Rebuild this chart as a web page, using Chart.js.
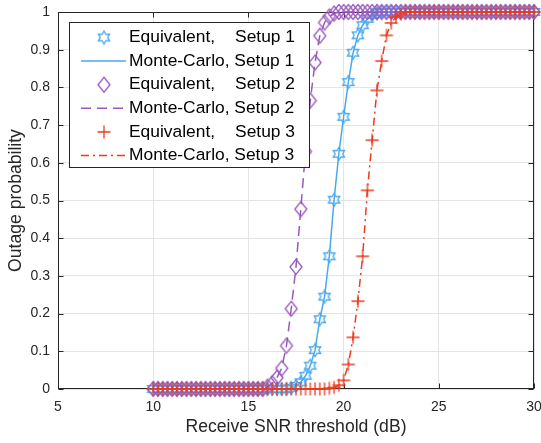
<!DOCTYPE html>
<html>
<head>
<meta charset="utf-8">
<script src="https://cdn.jsdelivr.net/npm/chart.js@4.4.1/dist/chart.umd.min.js"></script>
<style>
  html, body { margin: 0; padding: 0; background: #fff; }
  canvas { display: block; }
</style>
</head>
<body>
<canvas id="outageChart" width="541" height="443"></canvas>
<script>
// receive SNR threshold grid (dB)
const snrDb = [
  10, 10.25, 10.5, 10.75, 11, 11.25, 11.5, 11.75, 12, 12.25, 12.5, 12.75,
  13, 13.25, 13.5, 13.75, 14, 14.25, 14.5, 14.75, 15, 15.25, 15.5, 15.75,
  16, 16.25, 16.5, 16.75, 17, 17.25, 17.5, 17.75, 18, 18.25, 18.5, 18.75,
  19, 19.25, 19.5, 19.75, 20, 20.25, 20.5, 20.75, 21, 21.25, 21.5, 21.75,
  22, 22.25, 22.5, 22.75, 23, 23.25, 23.5, 23.75, 24, 24.25, 24.5, 24.75,
  25, 25.25, 25.5, 25.75, 26, 26.25, 26.5, 26.75, 27, 27.25, 27.5, 27.75,
  28, 28.25, 28.5, 28.75, 29, 29.25, 29.5, 29.75, 30
];

// outage probability, setup 1
const setup1 = [
  0, 0, 0, 0, 0, 0, 0, 0, 0, 0, 0, 0,
  0, 0, 0, 0, 0, 0, 0, 0, 0, 0, 0, 0,
  0, 0, 0, 0, 0, 0.003, 0.008, 0.018, 0.035, 0.062, 0.103, 0.185,
  0.245, 0.352, 0.502, 0.624, 0.722, 0.814, 0.892, 0.938, 0.965, 0.982, 0.992, 0.997,
  1, 1, 1, 1, 1, 1, 1, 1, 1, 1, 1, 1,
  1, 1, 1, 1, 1, 1, 1, 1, 1, 1, 1, 1,
  1, 1, 1, 1, 1, 1, 1, 1, 1
];

// outage probability, setup 2
const setup2 = [
  0, 0, 0, 0, 0, 0, 0, 0, 0, 0, 0, 0,
  0, 0, 0, 0, 0, 0, 0, 0, 0, 0, 0, 0,
  0.006, 0.015, 0.03, 0.055, 0.115, 0.213, 0.324, 0.477, 0.63, 0.765, 0.866, 0.937,
  0.972, 0.988, 0.996, 1, 1, 1, 1, 1, 1, 1, 1, 1,
  1, 1, 1, 1, 1, 1, 1, 1, 1, 1, 1, 1,
  1, 1, 1, 1, 1, 1, 1, 1, 1, 1, 1, 1,
  1, 1, 1, 1, 1, 1, 1, 1, 1
];

// outage probability, setup 3
const setup3 = [
  0, 0, 0, 0, 0, 0, 0, 0, 0, 0, 0, 0,
  0, 0, 0, 0, 0, 0, 0, 0, 0, 0, 0, 0,
  0, 0, 0, 0, 0, 0, 0, 0, 0, 0, 0, 0,
  0, 0.002, 0.004, 0.01, 0.023, 0.065, 0.137, 0.233, 0.352, 0.527, 0.66, 0.792,
  0.87, 0.938, 0.971, 0.987, 0.995, 1, 1, 1, 1, 1, 1, 1,
  1, 1, 1, 1, 1, 1, 1, 1, 1, 1, 1, 1,
  1, 1, 1, 1, 1, 1, 1, 1, 1
];

const xTicks = [5, 10, 15, 20, 25, 30];
const yTicks = [0, 0.1, 0.2, 0.3, 0.4, 0.5, 0.6, 0.7, 0.8, 0.9, 1];
const yTickLabels = ['0', '0.1', '0.2', '0.3', '0.4', '0.5', '0.6', '0.7', '0.8', '0.9', '1'];

const BLUE = '#4aa8ee';
const PURPLE = '#9a58bd';
const RED = '#ec3b1f';
const FONT = '"Liberation Sans", Arial, Helvetica, sans-serif';
const AXIS = '#262626';

function makeMarker(kind, color) {
    const c = document.createElement('canvas');
    c.width = 18;
    c.height = 18;
    const g = c.getContext('2d');
    g.strokeStyle = color;
    g.lineWidth = 1.3;
    g.beginPath();
    if (kind === 'hexagram') {
        const R = 6.5, r = R / Math.sqrt(3);
        for (let k = 0; k < 12; k++) {
            const a = -Math.PI / 2 + k * Math.PI / 6;
            const rad = k % 2 === 0 ? R : r;
            const px = 9 + rad * Math.cos(a), py = 9 + rad * Math.sin(a);
            if (k === 0) g.moveTo(px, py); else g.lineTo(px, py);
        }
        g.closePath();
    } else if (kind === 'diamond') {
        g.moveTo(9, 1.5);
        g.lineTo(15, 9);
        g.lineTo(9, 16.5);
        g.lineTo(3, 9);
        g.closePath();
    } else {
        g.moveTo(9, 2.5); g.lineTo(9, 15.5);
        g.moveTo(2.5, 9); g.lineTo(15.5, 9);
    }
    g.stroke();
    return c;
}

const starImg = makeMarker('hexagram', BLUE);
const diamondImg = makeMarker('diamond', PURPLE);
const plusImg = makeMarker('plus', RED);

function toPoints(values) {
    return snrDb.map((x, i) => ({ x: x, y: values[i] }));
}

function markerSet(label, values, img, order) {
    return {
        label: label, data: toPoints(values), showLine: false,
        pointStyle: img, pointRadius: 6, pointHoverRadius: 6,
        borderColor: 'transparent', backgroundColor: 'transparent',
        clip: false, order: order
    };
}

function lineSet(label, values, color, dash, order) {
    return {
        label: label, data: toPoints(values), borderColor: color,
        borderWidth: 1.5, borderDash: dash, pointRadius: 0, fill: false,
        tension: 0, clip: false, order: order
    };
}

const legendItems = [
    { a: 'Equivalent,', b: 'Setup 1', img: starImg },
    { a: 'Monte-Carlo, Setup 1', color: BLUE, dash: [] },
    { a: 'Equivalent,', b: 'Setup 2', img: diamondImg },
    { a: 'Monte-Carlo, Setup 2', color: PURPLE, dash: [10, 6] },
    { a: 'Equivalent,', b: 'Setup 3', img: plusImg },
    { a: 'Monte-Carlo, Setup 3', color: RED, dash: [8, 4, 2, 4] }
];

const frame = {
    id: 'frame',
    beforeDatasetsDraw(chart) {
        const ctx = chart.ctx, a = chart.chartArea;
        const xs = chart.scales.x, ys = chart.scales.y;
        const l = Math.round(a.left) + 0.5, r = Math.round(a.right) - 0.5;
        const t = Math.round(a.top) + 0.5, b = Math.round(a.bottom) - 0.5;
        ctx.save();
        ctx.strokeStyle = AXIS;
        ctx.lineWidth = 1;
        ctx.beginPath();
        xTicks.forEach(v => {
            const p = Math.round(xs.getPixelForValue(v)) + 0.5;
            ctx.moveTo(p, b); ctx.lineTo(p, b - 5);
            ctx.moveTo(p, t); ctx.lineTo(p, t + 5);
        });
        yTicks.forEach(v => {
            const p = Math.round(ys.getPixelForValue(v)) + 0.5;
            ctx.moveTo(l, p); ctx.lineTo(l + 5, p);
            ctx.moveTo(r, p); ctx.lineTo(r - 5, p);
        });
        ctx.stroke();
        ctx.strokeRect(l, t, r - l, b - t);
        ctx.restore();
    },
    afterDraw(chart) {
        const ctx = chart.ctx;
        ctx.save();
        ctx.fillStyle = '#fff';
        ctx.fillRect(69.5, 22.5, 240, 145);
        ctx.strokeStyle = AXIS;
        ctx.lineWidth = 1;
        ctx.strokeRect(69.5, 22.5, 240, 145);
        ctx.font = '17.4px ' + FONT;
        ctx.textBaseline = 'middle';
        legendItems.forEach((it, i) => {
            const y = 37.5 + i * 23.6;
            if (it.img) {
                ctx.drawImage(it.img, 104 - 9, y - 9);
            } else {
                ctx.strokeStyle = it.color;
                ctx.lineWidth = 1.5;
                ctx.setLineDash(it.dash);
                ctx.beginPath();
                ctx.moveTo(81, y); ctx.lineTo(126, y);
                ctx.stroke();
                ctx.setLineDash([]);
            }
            ctx.fillStyle = '#000';
            ctx.textAlign = 'left';
            ctx.fillText(it.a, 129, y);
            if (it.b) {
                ctx.textAlign = 'right';
                ctx.fillText(it.b, 295, y);
            }
        });
        ctx.restore();
    }
};

const ctx = document.getElementById('outageChart').getContext('2d');
const outageChart = new Chart(ctx, {
    type: 'line',
    data: {
        datasets: [
            markerSet('Equivalent, Setup 3', setup3, plusImg, 0),
            lineSet('Monte-Carlo, Setup 3', setup3, RED, [8, 4, 2, 4], 1),
            markerSet('Equivalent, Setup 2', setup2, diamondImg, 2),
            lineSet('Monte-Carlo, Setup 2', setup2, PURPLE, [10, 6], 3),
            markerSet('Equivalent, Setup 1', setup1, starImg, 4),
            lineSet('Monte-Carlo, Setup 1', setup1, BLUE, [], 5)
        ]
    },
    options: {
        responsive: false,
        animation: false,
        devicePixelRatio: 1,
        layout: { padding: { left: 0, right: 6, top: 12, bottom: 0 } },
        plugins: { legend: { display: false }, tooltip: { enabled: false } },
        scales: {
            x: {
                type: 'linear', min: 5, max: 30,
                afterBuildTicks: s => { s.ticks = xTicks.map(v => ({ value: v })); },
                ticks: { padding: 10, color: AXIS, maxRotation: 0, font: { size: 14, family: FONT } },
                grid: { color: '#e4e4e4', drawTicks: false },
                border: { display: false },
                title: {
                    display: true, text: 'Receive SNR threshold (dB)', color: AXIS,
                    font: { size: 17.6, family: FONT }, padding: { top: 0, bottom: 5 }
                },
                afterFit: s => { s.height = 54; s.paddingLeft = 0; s.paddingRight = 0; }
            },
            y: {
                type: 'linear', min: 0, max: 1,
                afterBuildTicks: s => { s.ticks = yTicks.map(v => ({ value: v })); },
                ticks: {
                    padding: 8, color: AXIS, font: { size: 14, family: FONT },
                    callback: (v, i) => yTickLabels[i]
                },
                grid: { color: '#e4e4e4', drawTicks: false },
                border: { display: false },
                title: {
                    display: true, text: 'Outage probability', color: AXIS,
                    font: { size: 17.6, family: FONT }, padding: { top: 6, bottom: 0 }
                },
                afterFit: s => { s.width = 58; s.paddingTop = 0; s.paddingBottom = 0; }
            }
        }
    },
    plugins: [frame]
});
</script>
</body>
</html>
